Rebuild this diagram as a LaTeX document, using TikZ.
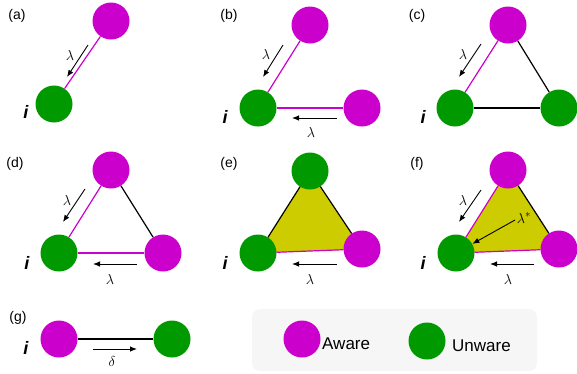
\documentclass[tikz,border=0pt]{standalone}
\usepackage{fontspec}
\setmainfont{Liberation Sans}
\usepackage{tikz}
\usetikzlibrary{arrows.meta,positioning,calc}
\definecolor{aware}{RGB}{204,0,204}
\definecolor{unaware}{RGB}{0,153,0}
\definecolor{simplex}{RGB}{204,204,0}
\definecolor{legendbg}{RGB}{246,246,246}

\begin{document}
\begin{tikzpicture}[x=1pt,y=-1pt,
    agent/.style={circle,minimum size=37pt,inner sep=0pt},
    aw/.style={agent,fill=aware},
    un/.style={agent,fill=unaware},
    link/.style={line width=1.2pt,draw=black},
    hot/.style={line width=1.2pt,draw=aware},
    flow/.style={-{Latex[length=7pt,width=5.5pt]},line width=0.9pt,black},
    tag/.style={font=\fontsize{14}{16}\selectfont},
    rate/.style={font=\fontsize{15}{17}\selectfont,inner sep=0pt},
    self/.style={font=\fontsize{18}{20}\selectfont\bfseries\itshape,inner sep=0pt},
    key/.style={font=\fontsize{17}{19}\selectfont,anchor=west,inner sep=0pt}
]
\useasboundingbox (0,0) rectangle (577,373);
\foreach \t/\x/\y in {a/17/16,b/229/16,c/417/16,d/15/164,e/229/164,f/417/164,g/18/318}
    \node[tag] (tag\t) at (\x,\y) {(\t)};
% (a)
\node[aw] (a1) at (111,21) {};
\node[un] (a2) at (54,104) {};
\draw[hot] (a1) -- (a2);
\coordinate (aS) at (88,45);
\coordinate (aE) at (67,77);
\draw[flow] (aS) -- (aE);
\node[rate] (lamA) at (70,55) {$\lambda$};
\node[self] (iA) at (26,112) {i};
% (b)
\node[aw] (b1) at (310,25) {};
\node[un] (b2) at (258,108) {};
\node[aw] (b3) at (362,108) {};
\draw[hot] (b1) -- (b2);
\draw[hot] (b3) -- (b2);
\coordinate (bS) at (283,45);
\coordinate (bE) at (263,77);
\draw[flow] (bS) -- (bE);
\node[rate] (lamB) at (266,54) {$\lambda$};
\coordinate (bS2) at (337,118);
\coordinate (bE2) at (292,118);
\draw[flow] (bS2) -- (bE2);
\node[rate] (lamB2) at (311,132) {$\lambda$};
\node[self] (iB) at (225,117) {i};
% (c)
\node[aw] (c1) at (508,25) {};
\node[un] (c2) at (455,108) {};
\node[un] (c3) at (559,108) {};
\draw[hot] (c1) -- (c2);
\draw[link] (c1) -- (c3);
\draw[link] (c2) -- (c3);
\coordinate (cS) at (481,44);
\coordinate (cE) at (459,77);
\draw[flow] (cS) -- (cE);
\node[rate] (lamC) at (463,54) {$\lambda$};
\node[self] (iC) at (423,117) {i};
% (d)
\node[aw] (d1) at (111,170) {};
\node[un] (d2) at (59,253) {};
\node[aw] (d3) at (163,253) {};
\draw[hot] (d1) -- (d2);
\draw[link] (d1) -- (d3);
\draw[hot] (d3) -- (d2);
\coordinate (dS) at (85,189);
\coordinate (dE) at (63,222);
\draw[flow] (dS) -- (dE);
\node[rate] (lamD) at (67,200) {$\lambda$};
\coordinate (dS2) at (137,264);
\coordinate (dE2) at (93,264);
\draw[flow] (dS2) -- (dE2);
\node[rate] (lamD2) at (110,279) {$\lambda$};
\node[self] (iD) at (27,263) {i};
% (e)
\coordinate (eT) at (310,171);
\coordinate (eL) at (258,253);
\coordinate (eR) at (362,249);
\fill[simplex] (eT) -- (eL) -- (eR) -- cycle;
\node[un] (e1) at (eT) {};
\node[un] (e2) at (eL) {};
\node[aw] (e3) at (eR) {};
\draw[link] (e1) -- (e2);
\draw[link] (e1) -- (e3);
\draw[hot] (e3) -- (e2);
\coordinate (eS) at (337,264);
\coordinate (eE) at (292,264);
\draw[flow] (eS) -- (eE);
\node[rate] (lamE) at (310,279) {$\lambda$};
\node[self] (iE) at (225,263) {i};
% (f)
\coordinate (fT) at (508,170);
\coordinate (fL) at (456,253);
\coordinate (fR) at (559,249);
\fill[simplex] (fT) -- (fL) -- (fR) -- cycle;
\node[aw] (f1) at (fT) {};
\node[un] (f2) at (fL) {};
\node[aw] (f3) at (fR) {};
\draw[hot] (f1) -- (f2);
\draw[link] (f1) -- (f3);
\draw[hot] (f3) -- (f2);
\coordinate (fS) at (481,190);
\coordinate (fE) at (459,222);
\draw[flow] (fS) -- (fE);
\node[rate] (lamF) at (463,200) {$\lambda$};
\coordinate (fS2) at (515,220);
\draw[flow] (fS2) -- (f2);
\node[rate] (lamStar) at (524,218) {$\lambda^{*}$};
\coordinate (fS3) at (534,264);
\coordinate (fE3) at (490,264);
\draw[flow] (fS3) -- (fE3);
\node[rate] (lamF2) at (508,279) {$\lambda$};
\node[self] (iF) at (423,263) {i};
% (g)
\node[aw] (g1) at (59,339) {};
\node[un] (g2) at (172,339) {};
\draw[link] (g1) -- (g2);
\coordinate (gS) at (93,349);
\coordinate (gE) at (137,349);
\draw[flow] (gS) -- (gE);
\node[rate] (delta) at (112,361) {$\delta$};
\node[self] (iG) at (26,348) {i};
% legend
\node[fill=legendbg,rounded corners=8pt,minimum width=285pt,minimum height=62pt,inner sep=0pt] (legend) at (394.5,340) {};
\node[aw] (keyAw) at (302,339) {};
\node[key] (txtAw) at (322,344) {Aware};
\node[un] (keyUn) at (427,341) {};
\node[key] (txtUn) at (452,346) {Unware};
\end{tikzpicture}
\end{document}
